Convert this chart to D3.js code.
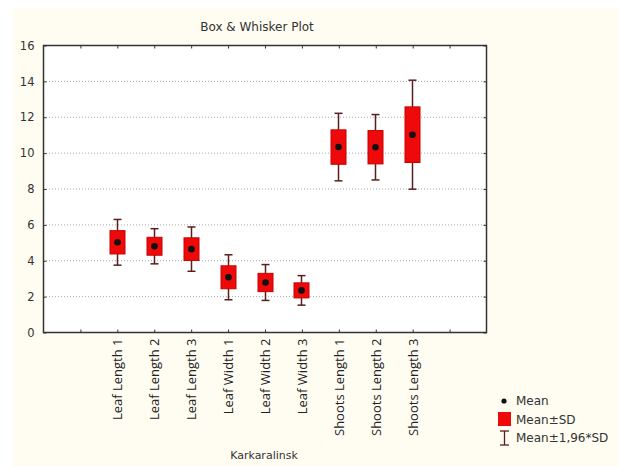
<!DOCTYPE html>
<html><head><meta charset="utf-8">
<script src="https://cdn.jsdelivr.net/npm/d3@7"></script>
<style>body{margin:0;background:#fff;} svg{display:block;}</style>
</head><body>
<svg id="c" width="618" height="466"></svg>
<script>
const categories = ["Leaf Length 1","Leaf Length 2","Leaf Length 3","Leaf Width 1","Leaf Width 2","Leaf Width 3","Shoots Length 1","Shoots Length 2","Shoots Length 3"];
const means = [5.0, 4.78, 4.62, 3.05, 2.76, 2.32, 10.31, 10.30, 11.0];
const sds   = [0.65, 0.50, 0.63, 0.64, 0.51, 0.42, 0.96, 0.93, 1.55];
const yTicks = [0,2,4,6,8,10,12,14,16];
const xTickPositions = [1,2,3,4,5,6,7,8,9,10,11];

const svg = d3.select("#c");
svg.append("rect").attr("x",13).attr("y",8).attr("width",605).attr("height",458).attr("fill","#fffcf2");

const L=43, R=486, T=45, B=332;
const x = d3.scaleLinear().domain([0,12]).range([L,R]);
const y = d3.scaleLinear().domain([0,16]).range([B,T]);

svg.append("rect").attr("x",L).attr("y",T).attr("width",R-L).attr("height",B-T).attr("fill","#fff");

// gridlines
svg.append("g").selectAll("line").data(yTicks.filter(d=>d>0&&d<16)).join("line")
  .attr("x1",L).attr("x2",R).attr("y1",d=>y(d)+0.5).attr("y2",d=>y(d)+0.5)
  .attr("stroke","#a8a8a8").attr("stroke-width",1).attr("stroke-dasharray","1,2");

// frame
svg.append("rect").attr("x",L+0.5).attr("y",T+0.5).attr("width",R-L).attr("height",B-T)
  .attr("fill","none").attr("stroke","#333").attr("stroke-width",1.5);

const fontAx = "DejaVu Sans, Verdana, sans-serif";
const yAxis = svg.append("g").attr("transform",`translate(${L+0.5},0.5)`)
  .call(d3.axisLeft(y).tickValues(yTicks).tickSizeInner(-3).tickSizeOuter(0).tickPadding(9));
yAxis.select(".domain").remove();
yAxis.selectAll("line").attr("stroke","#333");
yAxis.selectAll("text").attr("font-family",fontAx).attr("font-size",11.5).attr("fill","#333");

const yAxisR = svg.append("g").attr("transform",`translate(${R+0.5},0.5)`)
  .call(d3.axisRight(y).tickValues(yTicks).tickSizeInner(-3).tickSizeOuter(0).tickFormat(""));
yAxisR.select(".domain").remove();
yAxisR.selectAll("line").attr("stroke","#333");

const xAxisB = svg.append("g").attr("transform",`translate(0.5,${B+0.5})`)
  .call(d3.axisBottom(x).tickValues(xTickPositions).tickSizeInner(-3).tickSizeOuter(0)
    .tickFormat(d => (d>=2 && d<=10) ? categories[d-2] : ""));
xAxisB.select(".domain").remove();
xAxisB.selectAll("line").attr("stroke","#333");
xAxisB.selectAll("text")
  .attr("font-family","Open Sans, sans-serif").attr("font-size",13).attr("fill","#222")
  .attr("text-anchor","end").attr("transform","rotate(-90)")
  .attr("x",-6).attr("y",0).attr("dy","0.35em");

const xAxisT = svg.append("g").attr("transform",`translate(0.5,${T+0.5})`)
  .call(d3.axisTop(x).tickValues(xTickPositions).tickSizeInner(-3).tickSizeOuter(0).tickFormat(""));
xAxisT.select(".domain").remove();
xAxisT.selectAll("line").attr("stroke","#333");

// boxes
const data = categories.map((c,i)=>({pos:i+2, m:means[i], s:sds[i]}));
const bw = 15, cw = 8;
const g = svg.append("g");
const whiskerCol = "#5a1e1e";
data.forEach(d=>{
  const cx = Math.round(x(d.pos))+0.5;
  const hi = d.m+1.96*d.s, lo = d.m-1.96*d.s;
  g.append("line").attr("x1",cx).attr("x2",cx).attr("y1",y(hi)).attr("y2",y(lo)).attr("stroke",whiskerCol).attr("stroke-width",1.5);
  g.append("line").attr("x1",cx-cw/2).attr("x2",cx+cw/2).attr("y1",y(hi)).attr("y2",y(hi)).attr("stroke",whiskerCol).attr("stroke-width",1.5);
  g.append("line").attr("x1",cx-cw/2).attr("x2",cx+cw/2).attr("y1",y(lo)).attr("y2",y(lo)).attr("stroke",whiskerCol).attr("stroke-width",1.5);
  g.append("rect").attr("x",cx-bw/2).attr("width",bw).attr("y",y(d.m+d.s)).attr("height",y(d.m-d.s)-y(d.m+d.s))
    .attr("fill","#ee0a0a").attr("stroke","#c80000").attr("stroke-width",1);
  g.append("circle").attr("cx",cx).attr("cy",y(d.m)).attr("r",3.3).attr("fill","#111");
});

svg.append("text").attr("x",257).attr("y",31).attr("text-anchor","middle")
  .attr("font-family",fontAx).attr("font-size",12).attr("fill","#333").text("Box & Whisker Plot");
svg.append("text").attr("x",264).attr("y",459).attr("text-anchor","middle")
  .attr("font-family",fontAx).attr("font-size",11).attr("fill","#333").text("Karkaralinsk");

const lg = svg.append("g");
lg.append("circle").attr("cx",504).attr("cy",401).attr("r",2.6).attr("fill","#111");
lg.append("text").attr("x",516).attr("y",405).attr("font-family",fontAx).attr("font-size",12).attr("fill","#333").text("Mean");
lg.append("rect").attr("x",498).attr("y",412).attr("width",13).attr("height",14).attr("fill","#ee0a0a");
lg.append("text").attr("x",516).attr("y",424).attr("font-family",fontAx).attr("font-size",12).attr("fill","#333").text("Mean±SD");
lg.append("line").attr("x1",504.5).attr("x2",504.5).attr("y1",431).attr("y2",445).attr("stroke",whiskerCol).attr("stroke-width",1.3);
lg.append("line").attr("x1",500).attr("x2",509).attr("y1",431).attr("y2",431).attr("stroke",whiskerCol).attr("stroke-width",1.3);
lg.append("line").attr("x1",500).attr("x2",509).attr("y1",445).attr("y2",445).attr("stroke",whiskerCol).attr("stroke-width",1.3);
lg.append("text").attr("x",516).attr("y",442).attr("font-family",fontAx).attr("font-size",12).attr("fill","#333").text("Mean±1,96*SD");
</script>
</body></html>
